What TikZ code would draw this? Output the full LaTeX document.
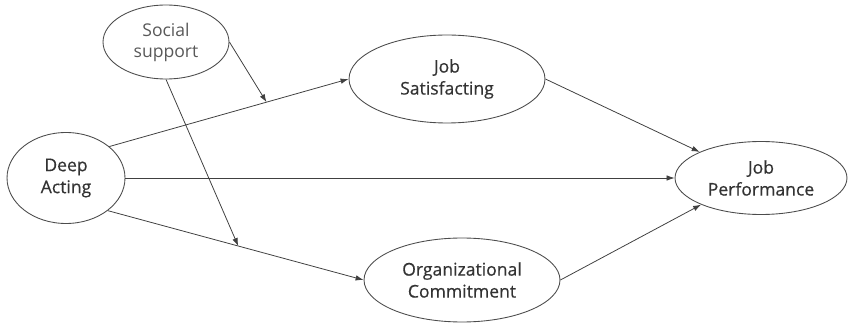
\documentclass[tikz,border=0pt]{standalone}
\usepackage{fontspec}
\setmainfont{Open Sans}
\newfontfamily\medfont[FakeBold=0.5]{Open Sans}
\usetikzlibrary{shapes.geometric,arrows.meta}
\begin{document}
\begin{tikzpicture}[
  x=0.02cm, y=-0.02cm,
  var/.style={ellipse, draw=black!70, line width=0.5pt, inner sep=0pt, align=center,
    font=\fontsize{10}{12.5}\selectfont\medfont, text=black!80},
  soft/.style={font=\fontsize{10}{12}\selectfont, text=black!65},
  lnk/.style={draw=black!75, line width=0.45pt, -{Latex[length=1.6mm,width=1.1mm]}}
]
\useasboundingbox (0,0) rectangle (848,324);
\node[var, soft, minimum width=2.52cm, minimum height=1.48cm] (ss) at (166,42) {Social\\support};
\node[var, minimum width=2.36cm, minimum height=1.82cm] (da) at (66,178) {Deep\\Acting};
\node[var, minimum width=3.92cm, minimum height=1.76cm] (js) at (447,79) {Job\\Satisfacting};
\node[var, minimum width=3.92cm, minimum height=1.68cm] (oc) at (462,280) {Organizational\\Commitment};
\node[var, minimum width=3.44cm, minimum height=1.46cm] (jp) at (761,178) {Job\\Performance};
\draw[lnk] (da.36) -- (js.west) coordinate[pos=0.657] (m1);
\draw[lnk] (da.east) -- (jp.west);
\draw[lnk] (da.-38) -- (oc.west) coordinate[pos=0.51] (m2);
\draw[lnk] (js.east) -- (jp.157);
\draw[lnk] (oc.east) -- (jp.204);
\draw[lnk] (ss.east) -- (m1);
\draw[lnk] (ss.south) -- (m2);
\end{tikzpicture}
\end{document}
